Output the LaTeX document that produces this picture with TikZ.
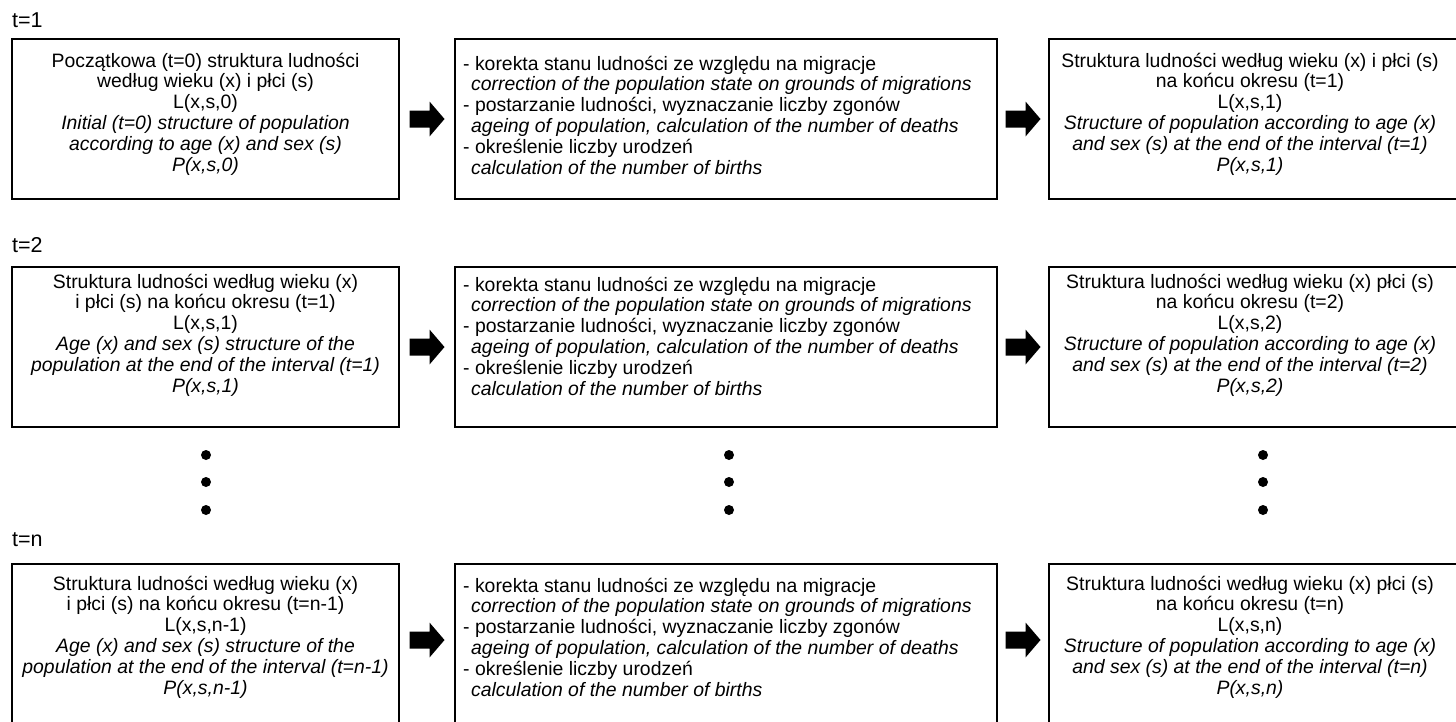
\documentclass[tikz,border=0pt]{standalone}
\usepackage{fontspec}
\setmainfont{Liberation Sans}
\usetikzlibrary{calc}
\newcommand\mymidtext{- korekta stanu ludności ze względu na migracje\\\hspace*{8pt}\textit{correction of the population state on grounds of migrations}\\- postarzanie ludności, wyznaczanie liczby zgonów\\\hspace*{8pt}\textit{ageing of population, calculation of the number of deaths}\\- określenie liczby urodzeń\\\hspace*{8pt}\textit{calculation of the number of births}}
\newcommand\blockarrow[1]{\fill (#1) ++(-17.5,-8.5) -- ++(20,0) -- ++(0,-9) -- ++(15,17.5) -- ++(-15,17.5) -- ++(0,-9) -- ++(-20,0) -- cycle;}
\begin{document}
\begin{tikzpicture}[x=1pt,y=-1pt,
  box/.style={draw,line width=2pt,inner sep=0pt,fill=none},
  txt/.style={inner sep=0pt,align=center,font=\fontsize{19.4}{20.8}\selectfont},
  ltxt/.style={inner sep=0pt,align=left,anchor=west,font=\fontsize{19.4}{20.8}\selectfont},
  lab/.style={inner sep=0pt,anchor=west,font=\fontsize{21.5}{24}\selectfont},
  dot/.style={circle,fill=black,inner sep=0pt,minimum size=10pt}]
\useasboundingbox (0,0) rectangle (1456,721);
\clip (0,0) rectangle (1456,721);
\fill[white] (0,0) rectangle (1456,721);
% row 1
\node[lab] (l1) at (12,20) {t=1};
\node[box,minimum width=387,minimum height=160] (b11) at (205.5,119) {};
\node[box,minimum width=542,minimum height=160] (b12) at (726,119) {};
\node[box,minimum width=430,minimum height=160] (b13) at (1264,119) {};
\node[txt] (t11) at (205.5,114) {Początkowa (t=0) struktura ludności\\według wieku (x) i płci (s)\\L(x,s,0)\\\textit{Initial (t=0) structure of population}\\\textit{according to age (x) and sex (s)}\\\textit{P(x,s,0)}};
\node[ltxt] (t12) at (463,115) {\mymidtext};
\node[txt] (t13) at (1250,114) {Struktura ludności według wieku (x) i płci (s)\\na końcu okresu (t=1)\\L(x,s,1)\\\textit{Structure of population according to age (x)}\\\textit{and sex (s) at the end of the interval (t=1)}\\\textit{P(x,s,1)}};
\blockarrow{$(b11.east)!0.5!(b12.west)$}
\blockarrow{$(b12.east)!0.5!(b13.west)$}
% row 2
\node[lab] (l2) at (12,245) {t=2};
\node[box,minimum width=387,minimum height=160] (b21) at (205.5,347) {};
\node[box,minimum width=542,minimum height=160] (b22) at (726,347) {};
\node[box,minimum width=430,minimum height=160] (b23) at (1264,347) {};
\node[txt] (t21) at (205.5,335) {Struktura ludności według wieku (x)\\i płci (s) na końcu okresu (t=1)\\L(x,s,1)\\\textit{Age (x) and sex (s) structure of the}\\\textit{population at the end of the interval (t=1)}\\\textit{P(x,s,1)}};
\node[ltxt] (t22) at (463,336) {\mymidtext};
\node[txt] (t23) at (1250,335) {Struktura ludności według wieku (x) płci (s)\\na końcu okresu (t=2)\\L(x,s,2)\\\textit{Structure of population according to age (x)}\\\textit{and sex (s) at the end of the interval (t=2)}\\\textit{P(x,s,2)}};
\blockarrow{$(b21.east)!0.5!(b22.west)$}
\blockarrow{$(b22.east)!0.5!(b23.west)$}
% dots
\foreach \x/\n in {206/a,729/b,1263/c}{
  \node[dot] (d1\n) at (\x,455) {};
  \node[dot] (d2\n) at (\x,482) {};
  \node[dot] (d3\n) at (\x,510) {};
}
% row 3
\node[lab] (l3) at (12,540) {t=n};
\node[box,minimum width=387,minimum height=180] (b31) at (205.5,654) {};
\node[box,minimum width=542,minimum height=180] (b32) at (726,654) {};
\node[box,minimum width=430,minimum height=180] (b33) at (1264,654) {};
\node[txt] (t31) at (205.5,637) {Struktura ludności według wieku (x)\\i płci (s) na końcu okresu (t=n-1)\\L(x,s,n-1)\\\textit{Age (x) and sex (s) structure of the}\\\textit{population at the end of the interval (t=n-1)}\\\textit{P(x,s,n-1)}};
\node[ltxt] (t32) at (463,637) {\mymidtext};
\node[txt] (t33) at (1250,637) {Struktura ludności według wieku (x) płci (s)\\na końcu okresu (t=n)\\L(x,s,n)\\\textit{Structure of population according to age (x)}\\\textit{and sex (s) at the end of the interval (t=n)}\\\textit{P(x,s,n)}};
\coordinate (r3) at (0,640);
\blockarrow{$(b31.east|-r3)!0.5!(b32.west|-r3)$}
\blockarrow{$(b32.east|-r3)!0.5!(b33.west|-r3)$}
\end{tikzpicture}
\end{document}
